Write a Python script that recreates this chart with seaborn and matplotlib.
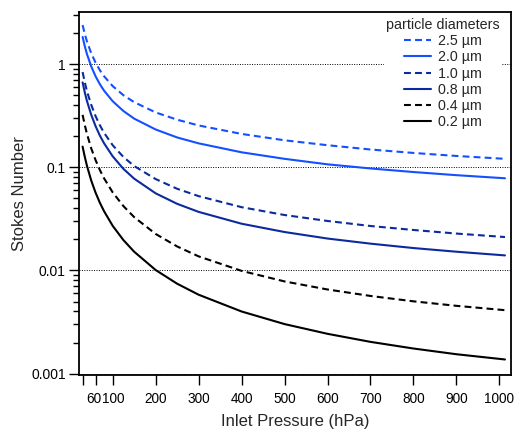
import pandas as pd
import matplotlib.pyplot as plt
import matplotlib.transforms as mtransforms
import seaborn as sns

# Values (Stokes number vs inlet pressure)
pressure = [30, 35, 40, 50, 60, 70, 80, 100, 125, 150, 200, 250, 300,
            400, 500, 600, 700, 800, 900, 1013]

stk_2_5 = [2.40, 1.97, 1.67, 1.28, 1.04, 0.878, 0.765, 0.614, 0.501, 0.429,
           0.341, 0.290, 0.255, 0.211, 0.183, 0.164, 0.149, 0.138, 0.129, 0.121]
stk_2_0 = [1.84, 1.50, 1.26, 0.955, 0.767, 0.642, 0.554, 0.438, 0.352, 0.297,
           0.233, 0.195, 0.171, 0.140, 0.121, 0.107, 0.0976, 0.0901, 0.0840, 0.0784]
stk_1_0 = [0.84, 0.67, 0.55, 0.405, 0.315, 0.257, 0.216, 0.164, 0.126, 0.103,
           0.0770, 0.0620, 0.0526, 0.0411, 0.0345, 0.0302, 0.0270, 0.0247, 0.0228, 0.0211]
stk_0_8 = [0.667, 0.535, 0.442, 0.324, 0.252, 0.204, 0.171, 0.128, 0.0967, 0.0777,
           0.0560, 0.0443, 0.0370, 0.0284, 0.0236, 0.0204, 0.0182, 0.0165, 0.0152, 0.0140]
stk_0_4 = [0.323, 0.258, 0.212, 0.153, 0.118, 0.0945, 0.0782, 0.0572, 0.0421, 0.0329,
           0.0226, 0.0171, 0.0137, 0.00991, 0.00783, 0.00654, 0.00566, 0.00502, 0.00454, 0.00412]
stk_0_2 = [0.159, 0.127, 0.104, 0.0746, 0.0571, 0.0455, 0.0375, 0.0271, 0.0197, 0.0152,
           0.0101, 0.00744, 0.00582, 0.00400, 0.00302, 0.00243, 0.00203, 0.00175, 0.00154, 0.00137]

diameters = ['2.5 µm', '2.0 µm', '1.0 µm', '0.8 µm', '0.4 µm', '0.2 µm']
series = [stk_2_5, stk_2_0, stk_1_0, stk_0_8, stk_0_4, stk_0_2]

x_ticks = [30, 60, 100, 200, 300, 400, 500, 600, 700, 800, 900, 1000]
x_tick_labels = ['', '60', '100', '200', '300', '400', '500', '600', '700', '800', '900', '1000']
y_ticks = [0.001, 0.01, 0.1, 1]
y_tick_labels = ['0.001', '0.01', '0.1', '1']

rows = []
for name, vals in zip(diameters, series):
    for p, v in zip(pressure, vals):
        rows.append({'pressure': p, 'stokes': v, 'diameter': name})
df = pd.DataFrame(rows)

bright = '#1450FF'
dark = '#0B2A9E'
palette = {'2.5 µm': bright, '2.0 µm': bright, '1.0 µm': dark,
           '0.8 µm': dark, '0.4 µm': 'black', '0.2 µm': 'black'}
dash = (3.3, 2.0)
dashes = {'2.5 µm': dash, '2.0 µm': '', '1.0 µm': dash,
          '0.8 µm': '', '0.4 µm': dash, '0.2 µm': ''}

sns.set_style('white')
plt.rcParams['font.family'] = ['Liberation Sans', 'DejaVu Sans']

fig, ax = plt.subplots(figsize=(5.15, 4.3), dpi=100)
fig.subplots_adjust(left=0.1534, right=0.9922, top=0.972, bottom=0.1272)

sns.lineplot(data=df, x='pressure', y='stokes', hue='diameter', style='diameter',
             hue_order=diameters, style_order=diameters, palette=palette,
             dashes=dashes, estimator=None, linewidth=1.5, ax=ax)

ax.set_yscale('log')
ax.set_xlim(21.6, 1027)
ax.set_ylim(0.000962, 3.21)

ax.set_xticks(x_ticks)
ax.set_xticklabels(x_tick_labels)
ax.set_yticks(y_ticks)
ax.set_yticklabels(y_tick_labels)
ax.yaxis.set_minor_locator(plt.LogLocator(base=10, subs=[2, 3, 4, 5, 6, 7, 8, 9]))
ax.yaxis.set_minor_formatter(plt.NullFormatter())

ax.tick_params(axis='both', which='major', direction='out', length=7, width=1,
               color='black', labelcolor='black', left=True, bottom=True)
ax.tick_params(axis='y', which='major', pad=2.5, labelsize=10)
ax.tick_params(axis='x', which='major', pad=5, labelsize=9.8)
ax.tick_params(axis='y', which='minor', direction='out', length=4, width=1,
               color='black', left=True)

# "60" and "100" sit very close: nudge them apart a little
xlabels = ax.get_xticklabels()
for lab, dx in ((xlabels[1], -1.1), (xlabels[2], 0.6)):
    lab.set_transform(lab.get_transform() +
                      mtransforms.ScaledTranslation(dx / 72, 0, fig.dpi_scale_trans))

for s in ax.spines.values():
    s.set_color('black')
    s.set_linewidth(1.3)
    s.set_visible(True)

ax.grid(False)
ax.yaxis.grid(True, which='major', color='black', linestyle=(0, (1, 1.5)), linewidth=0.7)

ax.set_xlabel('Inlet Pressure (hPa)', fontsize=12, labelpad=6)
ax.set_ylabel('Stokes Number', fontsize=12, labelpad=3)

handles, labels = ax.get_legend_handles_labels()
leg = ax.legend(handles, labels, title='particle diameters', fontsize=10.3,
                title_fontsize=10.3, loc='upper right',
                bbox_to_anchor=(502 / 515, 1 - 16 / 430), bbox_transform=fig.transFigure,
                frameon=True, fancybox=False, framealpha=1, edgecolor='white',
                facecolor='white', borderpad=0.15, borderaxespad=0,
                labelspacing=0.15, handlelength=1.87, handletextpad=0.47)
leg.get_frame().set_linewidth(0)

fig.savefig('out.png', dpi=100)
